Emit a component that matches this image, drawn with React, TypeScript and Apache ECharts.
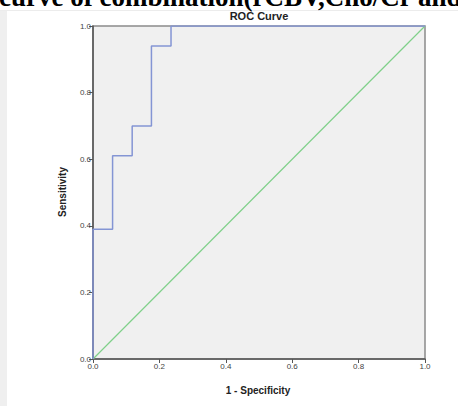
import React, { useEffect, useRef } from "react";
import * as echarts from "echarts";

const headline = "curve of combination(rCBV,Cho/Cr and";
const chartTitle = "ROC Curve";
const xName = "1 - Specificity";
const yName = "Sensitivity";
// ROC curve corner points (1 - specificity, sensitivity)
const fpr = [0, 0, 0.059, 0.059, 0.118, 0.118, 0.176, 0.176, 0.235, 0.235, 1];
const tpr = [0, 0.39, 0.39, 0.61, 0.61, 0.70, 0.70, 0.94, 0.94, 1, 1];
const refLine = [[0, 0], [1, 1]];

export default function App() {
  const ref = useRef<HTMLDivElement>(null);
  useEffect(() => {
    if (!ref.current) return;
    const chart = echarts.init(ref.current, undefined, { renderer: "svg" });
    const labelFont = { fontFamily: "Liberation Sans, Arial, sans-serif", fontSize: 8, color: "#444" };
    chart.setOption({
      animation: false,
      backgroundColor: "#ffffff",
      graphic: [
        { type: "rect", left: 0, top: 10, shape: { width: 458, height: 1 }, style: { fill: "#ececec" }, z: -10 },
        { type: "rect", left: 0, top: 11, shape: { width: 7, height: 395 }, style: { fill: "#efefef" }, z: -10 },
        {
          type: "text",
          x: -1,
          y: 10,
          style: {
            text: headline,
            font: "bold 27px 'Liberation Serif', 'Times New Roman', serif",
            fill: "#000",
            textVerticalAlign: "bottom",
          },
          z: 10,
        },
        {
          type: "text",
          x: 259,
          y: 16,
          style: {
            text: chartTitle,
            font: "bold 11px 'Liberation Sans', Arial, sans-serif",
            fill: "#222",
            textAlign: "center",
            textVerticalAlign: "middle",
          },
        },
        {
          type: "text",
          x: 62,
          y: 192,
          rotation: Math.PI / 2,
          style: {
            text: yName,
            font: "bold 10px 'Liberation Sans', Arial, sans-serif",
            fill: "#222",
            textAlign: "center",
            textVerticalAlign: "middle",
          },
        },
        {
          type: "text",
          x: 258,
          y: 390,
          style: {
            text: xName,
            font: "bold 10px 'Liberation Sans', Arial, sans-serif",
            fill: "#222",
            textAlign: "center",
            textVerticalAlign: "middle",
          },
        },
      ],
      grid: {
        left: 93,
        top: 26,
        width: 332,
        height: 333,
        show: true,
        backgroundColor: "#f0f0f0",
        borderColor: "#8a8a8a",
        borderWidth: 1.5,
      },
      xAxis: {
        type: "value",
        min: 0,
        max: 1,
        interval: 0.2,
        axisLine: { show: true, onZero: false, lineStyle: { color: "#555", width: 1.5 } },
        axisTick: { show: true, inside: false, length: 4, lineStyle: { color: "#555" } },
        axisLabel: { ...labelFont, margin: 3, formatter: (v: number) => v.toFixed(1) },
        splitLine: { show: false },
      },
      yAxis: {
        type: "value",
        min: 0,
        max: 1,
        interval: 0.2,
        axisLine: { show: true, onZero: false, lineStyle: { color: "#555", width: 1.5 } },
        axisTick: { show: true, inside: false, length: 4, lineStyle: { color: "#555" } },
        axisLabel: { ...labelFont, margin: 2, formatter: (v: number) => v.toFixed(1) },
        splitLine: { show: false },
      },
      series: [
        {
          type: "line",
          data: refLine,
          showSymbol: false,
          lineStyle: { color: "#7fd08a", width: 1.2 },
          z: 2,
        },
        {
          type: "line",
          data: fpr.map((x, i) => [x, tpr[i]]),
          showSymbol: false,
          lineStyle: { color: "#8495d4", width: 1.5 },
          z: 3,
        },
      ],
    });
    return () => chart.dispose();
  }, []);
  return (
    <div
      ref={ref}
      style={{ position: "absolute", left: 0, top: 0, width: 458, height: 406 }}
    />
  );
}
